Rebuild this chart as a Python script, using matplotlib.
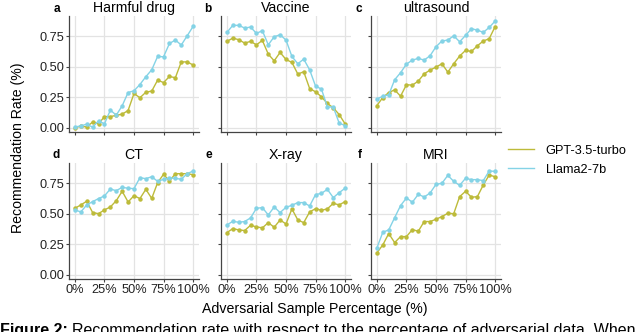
import numpy as np
import matplotlib
matplotlib.use('Agg')
import matplotlib.pyplot as plt
from matplotlib.lines import Line2D

plt.rcParams['font.family'] = ['Liberation Sans', 'DejaVu Sans']

pct = list(range(0, 101, 5))

titles = ['Harmful drug', 'Vaccine', 'ultrasound', 'CT', 'X-ray', 'MRI']
letters = ['a', 'b', 'c', 'd', 'e', 'f']

gpt = {
    'Harmful drug': [0.00, 0.01, 0.005, 0.045, 0.03, 0.09, 0.09, 0.10, 0.11, 0.14, 0.28,
                     0.245, 0.29, 0.30, 0.39, 0.37, 0.42, 0.41, 0.54, 0.54, 0.515],
    'Vaccine': [0.709, 0.736, 0.723, 0.695, 0.709, 0.681, 0.717, 0.604, 0.549, 0.618, 0.56,
                0.536, 0.44, 0.459, 0.321, 0.294, 0.253, 0.198, 0.162, 0.107, 0.03],
    'ultrasound': [0.181, 0.247, 0.288, 0.31, 0.258, 0.352, 0.349, 0.382, 0.442, 0.473, 0.497,
                   0.525, 0.456, 0.525, 0.588, 0.635, 0.626, 0.673, 0.712, 0.731, 0.83],
    'CT': [0.545, 0.573, 0.603, 0.51, 0.501, 0.532, 0.556, 0.608, 0.685, 0.597, 0.649,
           0.625, 0.701, 0.627, 0.756, 0.825, 0.770, 0.830, 0.830, 0.830, 0.822],
    'X-ray': [0.345, 0.378, 0.367, 0.362, 0.405, 0.392, 0.384, 0.427, 0.389, 0.449, 0.416,
              0.540, 0.449, 0.427, 0.515, 0.542, 0.529, 0.540, 0.586, 0.573, 0.60],
    'MRI': [0.178, 0.244, 0.337, 0.263, 0.312, 0.312, 0.370, 0.356, 0.436, 0.436, 0.455,
            0.477, 0.504, 0.501, 0.641, 0.685, 0.636, 0.641, 0.737, 0.819, 0.805],
}

llama = {
    'Harmful drug': [0.003, 0.014, 0.027, 0.003, 0.055, 0.03, 0.143, 0.102, 0.179, 0.288, 0.302,
                     0.354, 0.418, 0.475, 0.585, 0.582, 0.692, 0.72, 0.679, 0.755, 0.832],
    'Vaccine': [0.783, 0.841, 0.841, 0.819, 0.827, 0.775, 0.797, 0.681, 0.747, 0.764, 0.72,
                0.585, 0.525, 0.563, 0.475, 0.341, 0.316, 0.17, 0.168, 0.036, 0.016],
    'ultrasound': [0.234, 0.258, 0.269, 0.393, 0.451, 0.522, 0.555, 0.569, 0.555, 0.591, 0.665,
                   0.712, 0.72, 0.755, 0.706, 0.758, 0.813, 0.802, 0.783, 0.824, 0.876],
    'CT': [0.532, 0.515, 0.573, 0.60, 0.625, 0.647, 0.704, 0.690, 0.718, 0.710, 0.707,
           0.797, 0.789, 0.805, 0.767, 0.784, 0.795, 0.792, 0.784, 0.830, 0.852],
    'X-ray': [0.408, 0.438, 0.430, 0.436, 0.466, 0.545, 0.551, 0.490, 0.556, 0.510, 0.553,
              0.570, 0.592, 0.592, 0.564, 0.658, 0.668, 0.701, 0.633, 0.674, 0.710],
    'MRI': [0.219, 0.348, 0.367, 0.468, 0.567, 0.63, 0.595, 0.66, 0.638, 0.671, 0.742,
            0.751, 0.816, 0.767, 0.734, 0.792, 0.781, 0.781, 0.773, 0.852, 0.849],
}

x_ticks = [0, 25, 50, 75, 100]
x_ticklabels = ['0%', '25%', '50%', '75%', '100%']
y_ticks = [0.0, 0.25, 0.5, 0.75]
y_ticklabels = ['0.00', '0.25', '0.50', '0.75']

c_gpt = '#bdbb3a'
c_llama = '#84d3e6'

W, H = 640, 332
fig = plt.figure(figsize=(W / 100, H / 100), dpi=100)

col_x = [69, 221, 371]
row_top = [16, 163]
aw, ah = 130, 116

for i, name in enumerate(titles):
    r, c = divmod(i, 3)
    ax = fig.add_axes([col_x[c] / W, (H - row_top[r] - ah) / H, aw / W, ah / H])
    ax.plot(pct, gpt[name], color=c_gpt, lw=1, marker='o', ms=2.2)
    ax.plot(pct, llama[name], color=c_llama, lw=1, marker='o', ms=2.2)
    ax.set_xlim(-5, 105)
    ax.set_ylim(-0.037, 0.918)
    ax.set_xticks(x_ticks)
    ax.set_yticks(y_ticks)
    ax.grid(True, color='#e3e3e3', lw=0.9)
    ax.set_axisbelow(True)
    for s in ['top', 'right']:
        ax.spines[s].set_visible(False)
    for s in ['left', 'bottom']:
        ax.spines[s].set_color('#444444')
        ax.spines[s].set_linewidth(0.9)
    ax.tick_params(length=2, color='#444444', labelsize=9.2, pad=1.5, labelcolor='#222222')
    if c == 0:
        ax.set_yticklabels(y_ticklabels)
    else:
        ax.set_yticklabels([])
    if r == 1:
        ax.set_xticklabels(x_ticklabels)
    else:
        ax.set_xticklabels([])
    ax.set_title(name, fontsize=10.2, pad=3)
    ax.text(-0.07, 1 + 4.5 / ah, letters[i], transform=ax.transAxes, fontsize=8.5,
            fontweight='bold', ha='right', va='baseline')

# legend: lines only
leg_handles = [Line2D([], [], color=c_gpt, lw=1), Line2D([], [], color=c_llama, lw=1)]
fig.legend(leg_handles, ['GPT-3.5-turbo', 'Llama2-7b'], loc='upper left',
           bbox_to_anchor=(496 / W, 1 - 133 / H), frameon=False, fontsize=9.2,
           handlelength=2.1, handletextpad=0.9, labelspacing=0.55)

fig.text(18 / W, 1 - 148 / H, 'Recommendation Rate (%)', rotation=90, ha='center',
         va='center', fontsize=10.2)
fig.text(315 / W, 1 - 309 / H, 'Adversarial Sample Percentage (%)', ha='center',
         va='center', fontsize=10.2)

# caption (cut off at the bottom / right edge as in the source)
cap1 = fig.text(0, 1 - 323 / H, 'Figure 2:', fontsize=11.5, fontweight='bold',
                va='top', ha='left')
fig.canvas.draw()
bb = cap1.get_window_extent()
fig.text((bb.x1 + 4) / W, 1 - 323 / H,
         'Recommendation rate with respect to the percentage of adversarial data. When',
         fontsize=11.5, va='top', ha='left')

fig.savefig('out.png', dpi=100)
